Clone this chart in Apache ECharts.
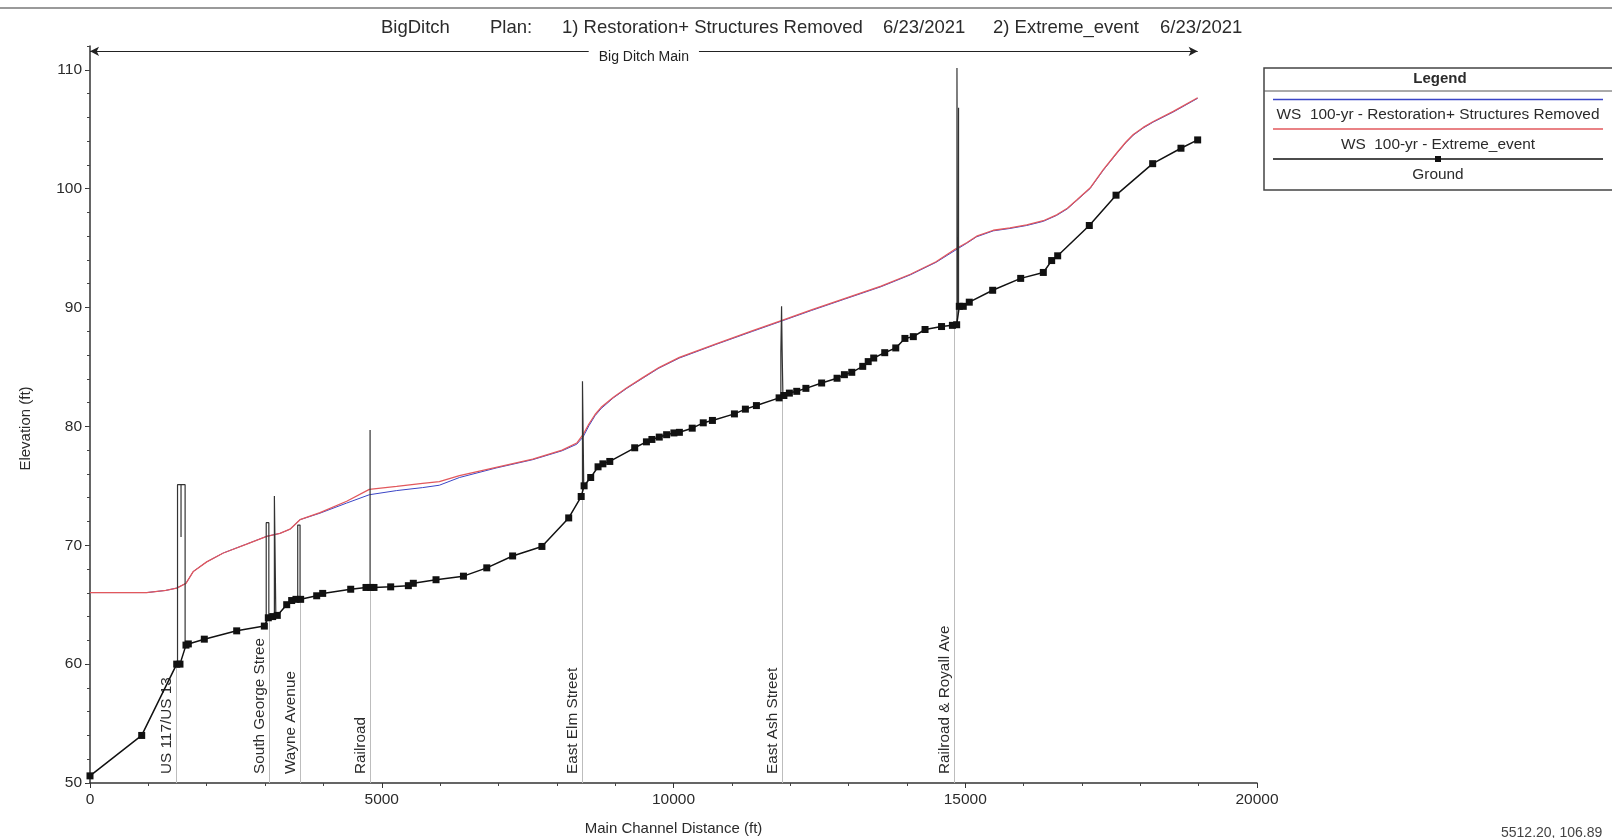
<!DOCTYPE html>
<html><head><meta charset="utf-8">
<script src="https://cdn.jsdelivr.net/npm/echarts@6/dist/echarts.min.js"></script>
<style>html,body{margin:0;padding:0;background:#fff;}#c{width:1612px;height:838px;}</style>
</head><body><div id="c"></div>
<script>
// ---------- DATA ----------
const titleParts = ["BigDitch", "Plan:", "1) Restoration+ Structures Removed", "6/23/2021", "2) Extreme_event", "6/23/2021"];
const seriesNames = ["WS  100-yr - Restoration+ Structures Removed", "WS  100-yr - Extreme_event", "Ground"];
const reachName = "Big Ditch Main";
const reachStart = 0, reachEnd = 18983, reachElev = 111.55;
const xTicks = [0, 5000, 10000, 15000, 20000];
const yTicks = [50, 60, 70, 80, 90, 100, 110];
const cursorText = "5512.20, 106.89";

// Ground profile [station ft, elevation ft]
const groundPts = [[0,50.6],[886,54.0],[1486,60.0],[1542,60.0],[1645,61.6],[1685,61.7],[1959,62.1],[2514,62.8],
 [2988,63.2],[3056,63.9],[3131,64.0],[3210,64.1],[3371,65.0],[3456,65.35],[3530,65.45],[3610,65.45],[3885,65.75],
 [3988,65.95],[4468,66.3],[4730,66.45],[4810,66.45],[4867,66.45],[5153,66.5],[5456,66.6],[5541,66.8],[5930,67.1],
 [6400,67.4],[6800,68.1],[7243,69.1],[7745,69.9],[8204,72.3],[8418,74.1],[8468,75.0],[8581,75.7],[8707,76.6],
 [8790,76.85],[8908,77.05],[9335,78.2],[9536,78.7],[9630,78.9],[9756,79.1],[9882,79.3],[10007,79.45],[10101,79.5],
 [10321,79.85],[10510,80.3],[10667,80.5],[11044,81.05],[11232,81.45],[11421,81.75],[11810,82.4],[11892,82.6],
 [11986,82.8],[12112,82.95],[12269,83.2],[12539,83.65],[12803,84.05],[12929,84.35],[13055,84.55],[13243,85.05],
 [13337,85.45],[13431,85.75],[13620,86.2],[13809,86.6],[13966,87.4],[14110,87.55],[14311,88.15],[14594,88.4],
 [14780,88.5],[14853,88.55],[14898,90.1],[14966,90.1],[15069,90.45],[15470,91.45],[15950,92.45],[16338,92.95],
 [16481,93.95],[16584,94.35],[17126,96.9],[17584,99.45],[18212,102.1],[18697,103.4],[18983,104.1]];

// Water surface, plan 2 (Extreme_event)
const wsExtreme = [[0,66.02],[971,66.02],[1300,66.2],[1486,66.4],[1645,66.8],[1771,67.8],[2000,68.6],[2285,69.35],
 [2685,70.1],[3028,70.75],[3256,71.0],[3428,71.35],[3599,72.15],[3942,72.75],[4399,73.7],[4787,74.7],[5256,74.95],
 [5700,75.2],[5987,75.35],[6332,75.85],[6960,76.55],[7588,77.25],[8091,78.0],[8342,78.6],[8449,79.3],[8550,80.2],
 [8656,81.0],[8760,81.6],[8970,82.45],[9200,83.25],[9473,84.1],[9750,84.95],[10101,85.8],[10730,86.95],[11358,88.05],
 [11848,88.9],[12363,89.8],[12929,90.75],[13557,91.8],[14060,92.8],[14499,93.85],[14824,94.9],[15024,95.45],
 [15195,96.0],[15481,96.5],[15767,96.7],[16053,96.95],[16338,97.3],[16567,97.8],[16750,98.35],[16910,99.05],
 [17138,100.05],[17366,101.6],[17595,103.0],[17750,103.9],[17880,104.55],[18050,105.15],[18223,105.65],
 [18566,106.5],[18983,107.65]];

// Water surface, plan 1 (Restoration+ Structures Removed)
const wsRestoration = [[0,66.02],[971,66.02],[1300,66.2],[1486,66.4],[1645,66.8],[1771,67.8],[2000,68.6],[2285,69.35],
 [2685,70.1],[3028,70.75],[3256,71.0],[3428,71.35],[3599,72.15],[3942,72.7],[4399,73.55],[4787,74.25],[5256,74.6],
 [5700,74.85],[5987,75.05],[6332,75.7],[6960,76.5],[7588,77.2],[8091,77.95],[8342,78.5],[8449,79.1],[8550,80.05],
 [8656,80.9],[8760,81.5],[8970,82.4],[9200,83.2],[9473,84.05],[9750,84.9],[10101,85.75],[10730,86.9],[11358,88.0],
 [11848,88.85],[12363,89.75],[12929,90.7],[13557,91.75],[14060,92.75],[14499,93.8],[14824,94.8],[15024,95.4],
 [15195,95.95],[15481,96.45],[15767,96.65],[16053,96.9],[16338,97.25],[16567,97.75],[16750,98.3],[16910,99.0],
 [17138,100.0],[17366,101.55],[17595,102.95],[17750,103.85],[17880,104.5],[18050,105.1],[18223,105.6],
 [18566,106.45],[18983,107.6]];

// Bridge / structure outlines [station, elevation]
const structUS117 = [[1500,60.0],[1500,75.1],[1630,75.1],[1630,61.6]];
const structUS117Inner = [[1560,75.1],[1560,70.7]];
const structSGeorgeA = [[3020,63.2],[3020,71.9],[3065,71.9],[3065,63.9]];
const structSGeorgeB = [[3160,64.0],[3160,74.15],[3185,74.15],[3185,64.05]];
const structWayne = [[3560,65.4],[3560,71.7],[3600,71.7],[3600,65.45]];
const structRailroad = [[4800,66.45],[4800,79.7]];
const structElm = [[8440,74.6],[8440,83.8],[8462,83.8],[8462,75.0]];
const structAsh = [[11840,82.4],[11840,86.3],[11852,86.3],[11852,90.1],[11862,90.1],[11862,86.3],[11875,86.3],[11875,82.6]];
const structRoyall = [[14858,88.55],[14858,110.15],[14868,110.15],[14868,90.1]];
const structRoyallB = [[14885,90.1],[14885,106.8]];
const structures = [structUS117, structUS117Inner, structSGeorgeA, structSGeorgeB, structWayne, structRailroad,
  structElm, structAsh, structRoyall, structRoyallB];

// Bridge location markers
const bridgeNames = ["US 117/US 13", "South George Stree", "Wayne Avenue", "Railroad", "East Elm Street", "East Ash Street", "Railroad & Royall Ave"];
const bridgeStations = [1475, 3073, 3599, 4799, 8428, 11870, 14816];
const bridgeMarkTop = [59.9, 63.9, 65.45, 66.45, 74.3, 82.5, 88.5];

// ---------- CHART ----------
const FONT = "'Liberation Sans', Arial, sans-serif";
const TXT = '#2b2b2b';
const colRest = '#3b45c6', colExt = '#e2585c', colGround = '#111111';
const chart = echarts.init(document.getElementById('c'), null, {renderer: 'canvas'});

const locLines = bridgeNames.map((n, i) => [
  {coord: [bridgeStations[i], 50], name: n, symbol: 'none'},
  {coord: [bridgeStations[i], bridgeMarkTop[i]], symbol: 'none'}
]);
const reachLine = [
  {coord: [reachStart, reachElev], name: reachName, symbol: 'arrow', symbolSize: [7, 9],
   lineStyle: {color: '#222', width: 1.2},
   label: {show: true, position: 'insideMiddleBottom', distance: -4, formatter: '{b}', fontSize: 14,
           color: '#222', backgroundColor: '#fff', padding: [3, 10], fontFamily: FONT}},
  {coord: [reachEnd, reachElev], symbol: 'arrow', symbolSize: [7, 9]}
];
const reachTick = [
  {coord: [reachEnd, reachElev - 1.2], symbol: 'none', lineStyle: {color: '#222', width: 1.2}, label: {show: false}},
  {coord: [reachEnd, reachElev + 1.0], symbol: 'none'}
];

const structSeries = structures.map(s => ({
  type: 'line', data: s, symbol: 'none', silent: true, z: 4,
  lineStyle: {color: '#333', width: 1.2}
}));

const titleX = [381, 490, 562, 883, 993, 1160];
const titleGraphics = titleParts.map((t, i) => ({
  type: 'text', left: titleX[i], top: 18,
  style: {text: t, fontSize: 18.5, fill: TXT, fontFamily: FONT}
}));

const option = {
  animation: false,
  grid: {left: 90, right: 355, top: 46, bottom: 55, containLabel: false, outerBoundsMode: 'none'},
  xAxis: {
    type: 'value', min: xTicks[0], max: xTicks[xTicks.length - 1], interval: xTicks[1] - xTicks[0],
    name: 'Main Channel Distance (ft)', nameLocation: 'middle', nameGap: 38,
    nameTextStyle: {fontSize: 15, color: TXT, fontFamily: FONT},
    axisLine: {lineStyle: {color: '#333', width: 1.5}},
    axisTick: {length: 5, lineStyle: {color: '#333'}},
    minorTick: {show: true, splitNumber: 5, length: 3, lineStyle: {color: '#444'}},
    splitLine: {show: false}, minorSplitLine: {show: false},
    axisLabel: {fontSize: 15.5, color: TXT, margin: 9, fontFamily: FONT, formatter: v => String(v)}
  },
  yAxis: [{
    type: 'value', min: yTicks[0], max: 112, interval: yTicks[1] - yTicks[0],
    name: 'Elevation (ft)', nameLocation: 'middle', nameGap: 57, nameRotate: 90,
    nameTextStyle: {fontSize: 15, color: TXT, fontFamily: FONT, padding: [0, 28, 0, 0]},
    axisLine: {lineStyle: {color: '#333', width: 1.5}},
    axisTick: {length: 5, lineStyle: {color: '#333'}},
    splitLine: {show: false},
    axisLabel: {fontSize: 15.5, color: TXT, margin: 8, showMaxLabel: false, fontFamily: FONT}
  }, {
    type: 'value', min: yTicks[0], max: 112, interval: 2, position: 'left',
    axisLine: {show: false}, axisLabel: {show: false}, splitLine: {show: false},
    axisTick: {show: true, length: 3, lineStyle: {color: '#444'}}
  }],
  graphic: [
    {type: 'line', shape: {x1: 0, y1: 8, x2: 1612, y2: 8}, style: {stroke: '#9a9a9a', lineWidth: 2}},
    ...titleGraphics,
    // legend box
    {type: 'rect', shape: {x: 1264, y: 68, width: 400, height: 122}, style: {fill: '#fff', stroke: '#444', lineWidth: 1.5}},
    {type: 'line', shape: {x1: 1264, y1: 91, x2: 1612, y2: 91}, style: {stroke: '#555', lineWidth: 1}},
    {type: 'text', x: 1440, y: 79, style: {text: 'Legend', fontSize: 15, fontWeight: 'bold', fill: TXT, align: 'center', verticalAlign: 'middle', fontFamily: FONT}},
    {type: 'line', shape: {x1: 1273, y1: 99.5, x2: 1603, y2: 99.5}, style: {stroke: colRest, lineWidth: 1.5}},
    {type: 'text', x: 1438, y: 115, style: {text: seriesNames[0], fontSize: 15.4, fill: TXT, align: 'center', verticalAlign: 'middle', fontFamily: FONT}},
    {type: 'line', shape: {x1: 1273, y1: 129, x2: 1603, y2: 129}, style: {stroke: colExt, lineWidth: 1.5}},
    {type: 'text', x: 1438, y: 145, style: {text: seriesNames[1], fontSize: 15.4, fill: TXT, align: 'center', verticalAlign: 'middle', fontFamily: FONT}},
    {type: 'line', shape: {x1: 1273, y1: 159, x2: 1603, y2: 159}, style: {stroke: colGround, lineWidth: 1.3}},
    {type: 'rect', shape: {x: 1435, y: 156, width: 6, height: 6}, style: {fill: colGround}},
    {type: 'text', x: 1438, y: 175, style: {text: seriesNames[2], fontSize: 15.4, fill: TXT, align: 'center', verticalAlign: 'middle', fontFamily: FONT}},
    {type: 'text', left: 1501, top: 826, style: {text: cursorText, fontSize: 14, fill: '#444', fontFamily: FONT}}
  ],
  series: [
    {name: seriesNames[0], type: 'line', data: wsRestoration, symbol: 'none', z: 2,
     lineStyle: {color: colRest, width: 1.0}},
    {name: seriesNames[1], type: 'line', data: wsExtreme, symbol: 'none', z: 3,
     lineStyle: {color: colExt, width: 1.3}},
    ...structSeries,
    {name: seriesNames[2], type: 'line', data: groundPts, symbol: 'rect', symbolSize: 7, showAllSymbol: true, z: 5,
     itemStyle: {color: colGround}, lineStyle: {color: colGround, width: 1.5},
     markLine: {
       silent: true, symbol: ['none', 'none'], animation: false,
       lineStyle: {color: '#bdbdbd', width: 1, type: 'solid'},
       label: {show: true, position: 'insideStartTop', formatter: '{b}', fontSize: 15.3, color: TXT,
               distance: [9, 2], fontFamily: FONT},
       data: [...locLines, reachLine, reachTick]
     }}
  ]
};
chart.setOption(option);
</script></body></html>
